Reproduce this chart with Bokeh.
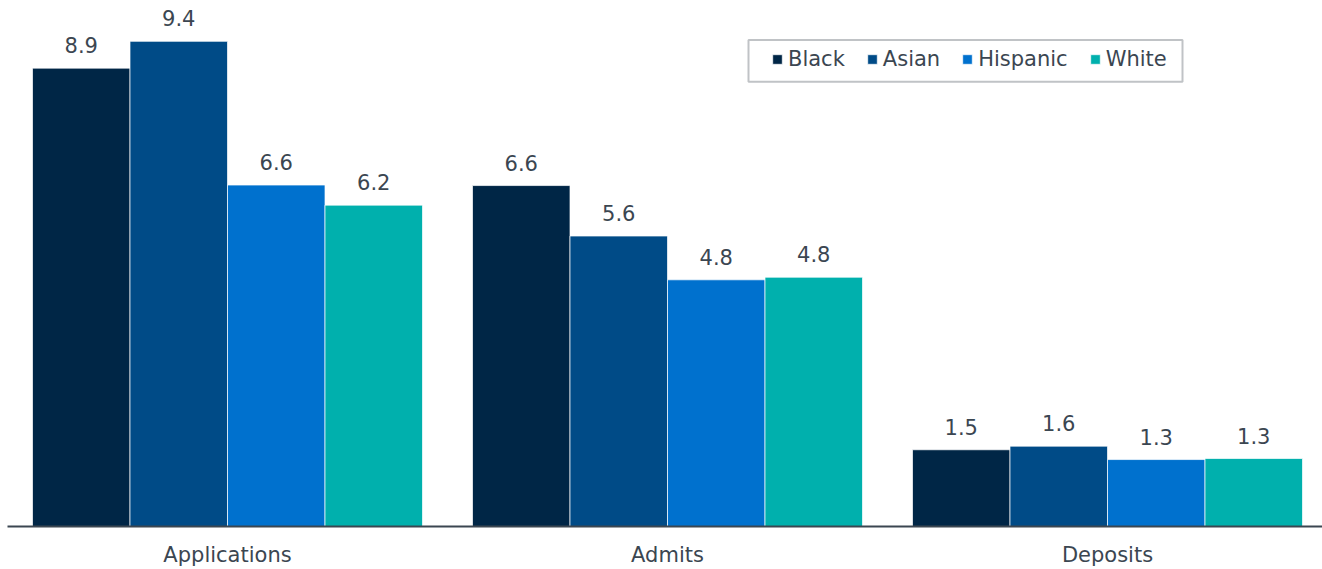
from bokeh.plotting import figure
from bokeh.models import (ColumnDataSource, Range1d, FixedTicker, Legend, LegendItem,
                          BoxAnnotation)
from bokeh.transform import dodge
from bokeh.core.properties import value
from bokeh.embed import file_html
from bokeh.resources import INLINE

categories = ["Applications", "Admits", "Deposits"]
races = ["Black", "Asian", "Hispanic", "White"]
black = [8.9, 6.62, 1.49]
asian = [9.42, 5.64, 1.56]
hispanic = [6.63, 4.79, 1.30]
white = [6.24, 4.84, 1.32]
colors = ["#002646", "#004B87", "#0071CE", "#00B0AD"]

FONT = "DejaVu Sans"
TXT = "#3B4651"
FS = "21px"

W, H = 1322, 569
LEFT, BOTTOM = 7, 42
PX_PER_CAT = 440.0
PX_PER_UNIT = 51.6
frame_w = W - LEFT
frame_h = H - BOTTOM

x0 = -0.5
x1 = x0 + frame_w / PX_PER_CAT
y1 = frame_h / PX_PER_UNIT

p = figure(width=W, height=H, output_backend="svg", toolbar_location=None,
           x_range=Range1d(x0, x1), y_range=Range1d(0, y1),
           y_axis_location=None, min_border_left=LEFT, min_border_right=0,
           min_border_top=0, min_border_bottom=BOTTOM)
p.outline_line_color = None
p.xgrid.visible = False
p.ygrid.visible = False
p.background_fill_color = "white"
p.border_fill_color = "white"

series = [black, asian, hispanic, white]
bar_w = 97.5 / PX_PER_CAT
offsets = [(i - 1.5) * bar_w for i in range(4)]

items = []
for name, vals, col, off in zip(races, series, colors, offsets):
    src = ColumnDataSource(dict(x=list(range(len(categories))), top=vals,
                                lab=[f"{v:.1f}" for v in vals]))
    r = p.vbar(x=dodge("x", off), top="top", width=bar_w, source=src,
               fill_color=col, line_color="white", line_alpha=0.7, line_width=1)
    p.text(x=dodge("x", off), y="top", text="lab", source=src,
           text_align="center", text_baseline="alphabetic", y_offset=-23,
           text_font=value(FONT), text_font_size=FS, text_color=TXT)
    items.append(LegendItem(label=name, renderers=[r]))

ax = p.xaxis[0]
ax.ticker = FixedTicker(ticks=list(range(len(categories))))
ax.major_label_overrides = {i: c for i, c in enumerate(categories)}
ax.major_tick_line_color = None
ax.minor_tick_line_color = None
ax.major_tick_out = 0
ax.major_tick_in = 0
ax.minor_tick_out = 0
ax.minor_tick_in = 0
ax.axis_line_color = TXT
ax.axis_line_width = 2
ax.major_label_text_font = FONT
ax.major_label_text_font_size = FS
ax.major_label_text_color = TXT
ax.major_label_standoff = 16


def dx(px):
    return x0 + (px - LEFT) / PX_PER_CAT


def dy(py):
    return (frame_h - py) / PX_PER_UNIT


box = BoxAnnotation(left=dx(748), right=dx(1182), top=dy(39.5), bottom=dy(81.5),
                    fill_color="white", fill_alpha=1.0, line_color="#2E3842",
                    line_width=2)
p.add_layout(box)

legend = Legend(items=items, orientation="horizontal", location=(764, 455),
                padding=0, spacing=21, label_standoff=5, glyph_width=12,
                glyph_height=12, border_line_color=None, background_fill_alpha=0,
                label_text_font=FONT, label_text_font_size=FS,
                label_text_color=TXT, margin=0)
p.add_layout(legend, "center")

open("out.html", "w").write(file_html(p, INLINE))
